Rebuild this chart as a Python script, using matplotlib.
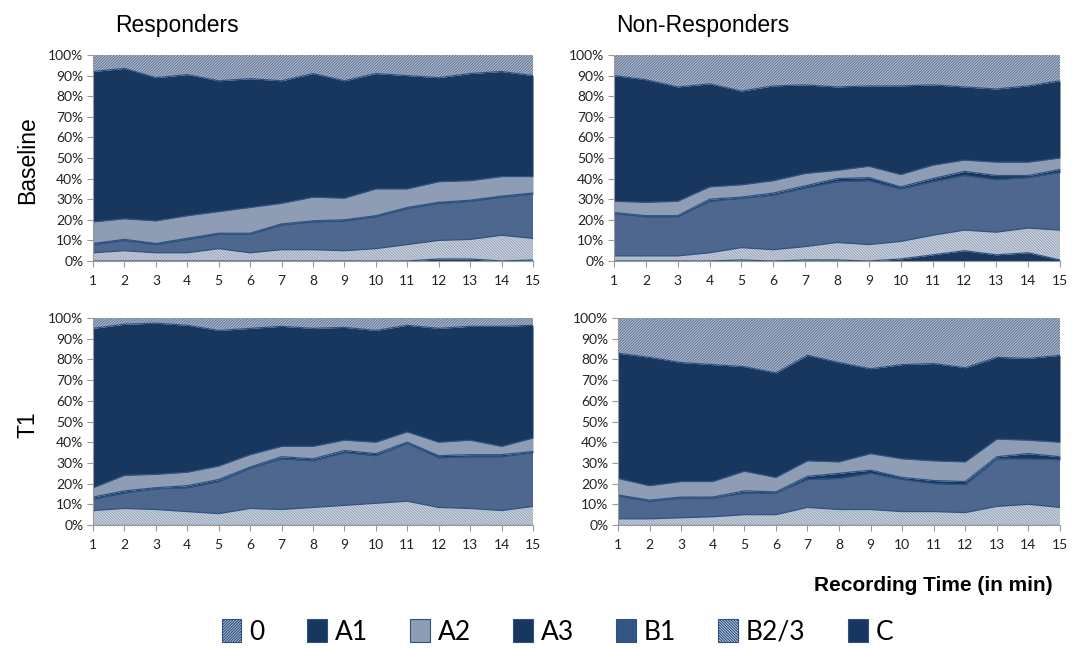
import numpy as np
import matplotlib
matplotlib.use("Agg")
import matplotlib.pyplot as plt
from matplotlib.patches import Patch

plt.rcParams["hatch.linewidth"] = 0.9

# ── data: share of each category (%) per recording minute ─────────
minutes = list(range(1, 16))
categories = ["0", "A1", "A2", "A3", "B1", "B2/3", "C"]

# Responders, Baseline
resp_base_C   = [0, 0, 0, 0, 0, 0, 0, 0, 0, 0, 0, 1, 1, 0, 0.5]
resp_base_B23 = [4, 5, 4, 4, 6, 4, 5.5, 5.5, 5, 6, 8, 9, 9.5, 12.5, 10.5]
resp_base_B1  = [4, 5, 4, 6.5, 7, 9, 12, 13.5, 14.5, 15.5, 17.5, 18, 18.5, 18.5, 21.5]
resp_base_A3  = [0.5, 0.5, 0.5, 0.5, 0.5, 0.5, 0.5, 0.5, 0.5, 0.5, 0.5, 0.5, 0.5, 0.5, 0.5]
resp_base_A2  = [10.5, 10, 11, 11, 10.5, 12.5, 10, 11.5, 10.5, 13, 9, 10, 9.5, 9.5, 8]
resp_base_A1  = [73, 73, 69.5, 68.5, 63.5, 62.5, 59.5, 60, 57, 56, 55, 50.5, 52, 51, 49]
resp_base_0   = [8, 6.5, 11, 9.5, 12.5, 11.5, 12.5, 9, 12.5, 9, 10, 11, 9, 8, 10]

# Non-Responders, Baseline
non_base_C   = [0, 0, 0, 0, 0.5, 0, 0.5, 0.5, 0, 1, 3, 5, 3, 4, 0.5]
non_base_B23 = [2.5, 2.5, 2.5, 4, 6, 5.5, 6.5, 8.5, 8, 8.5, 9.5, 10, 11, 12, 14.5]
non_base_B1  = [20.5, 19, 19, 25, 24, 26.5, 28.5, 29.5, 31, 25.5, 26, 26.5, 25.5, 24.5, 28]
non_base_A3  = [0.5, 0.5, 0.5, 1, 0.5, 1, 1, 1.5, 1.5, 1, 1.5, 2, 2, 1, 1.5]
non_base_A2  = [5.5, 6.5, 7, 6, 6, 6, 6, 4, 5.5, 6, 6.5, 5.5, 6.5, 6.5, 5.5]
non_base_A1  = [61, 59.5, 55.5, 50, 45.5, 46, 43, 40.5, 39, 43, 39, 35.5, 35.5, 37, 37.5]
non_base_0   = [10, 12, 15.5, 14, 17.5, 15, 14.5, 15.5, 15, 15, 14.5, 15.5, 16.5, 15, 12.5]

# Responders, T1
resp_t1_C   = [0] * 15
resp_t1_B23 = [7, 8, 7.5, 6.5, 5.5, 8, 7.5, 8.5, 9.5, 10.5, 11.5, 8.5, 8, 7, 9]
resp_t1_B1  = [5.5, 7.5, 10, 11.5, 15.5, 19.5, 24.5, 22.5, 25.5, 23, 28, 24, 25, 26, 26]
resp_t1_A3  = [1, 1, 0.5, 1, 1, 0.5, 1, 1, 1, 1, 0.5, 1, 1, 1, 0.5]
resp_t1_A2  = [4.5, 7.5, 6.5, 6.5, 6.5, 6, 5, 6, 5, 5.5, 5, 6.5, 7, 4, 6.5]
resp_t1_A1  = [77, 73, 73, 71, 65.5, 61, 58, 57, 54.5, 54, 51.5, 55, 55, 58, 54.5]
resp_t1_0   = [5, 3, 2.5, 3.5, 6, 5, 4, 5, 4.5, 6, 3.5, 5, 4, 4, 3.5]

# Non-Responders, T1
non_t1_C   = [0] * 15
non_t1_B23 = [3, 3, 3.5, 4, 5, 5, 8.5, 7.5, 7.5, 6.5, 6.5, 6, 9, 10, 8.5]
non_t1_B1  = [11, 8.5, 9.5, 9, 10.5, 10.5, 13.5, 15, 17.5, 15.5, 13.5, 13.5, 23, 22, 23]
non_t1_A3  = [0.5, 0.5, 0.5, 0.5, 1, 0.5, 1.5, 2.5, 1.5, 1, 1.5, 1.5, 1, 2.5, 1.5]
non_t1_A2  = [8, 7, 7.5, 7.5, 9.5, 7, 7.5, 5.5, 8, 9, 9.5, 9.5, 8.5, 6.5, 7]
non_t1_A1  = [60.5, 62, 57.5, 56.5, 50.5, 50.5, 51, 48, 41, 45.5, 47, 45.5, 39.5, 39.5, 42]
non_t1_0   = [17, 19, 21.5, 22.5, 23.5, 26.5, 18, 21.5, 24.5, 22.5, 22, 24, 19, 19.5, 18]

# ── styles (bottom -> top stacking order: C, B2/3, B1, A3, A2, A1, 0) ──
NAVY = "#17375e"
styles = {
    "C":    dict(face=NAVY,      hatch=None,           hcol=NAVY),
    "B2/3": dict(face="#e4e8ee", hatch="\\" * 12,      hcol="#98a6ba"),
    "B1":   dict(face="#58709a", hatch="|" * 12,       hcol="#4d668d"),
    "A3":   dict(face=NAVY,      hatch=None,           hcol=NAVY),
    "A2":   dict(face="#8e9db4", hatch=None,           hcol="#8e9db4"),
    "A1":   dict(face=NAVY,      hatch=None,           hcol=NAVY),
    "0":    dict(face="#cbd3df", hatch="/" * 12,       hcol="#66799a"),
}
stack_order = ["C", "B2/3", "B1", "A3", "A2", "A1", "0"]

panels = [
    ([0.0868, 0.5972, 0.4104, 0.3179],
     [resp_base_C, resp_base_B23, resp_base_B1, resp_base_A3, resp_base_A2, resp_base_A1, resp_base_0]),
    ([0.5728, 0.5972, 0.4160, 0.3179],
     [non_base_C, non_base_B23, non_base_B1, non_base_A3, non_base_A2, non_base_A1, non_base_0]),
    ([0.0868, 0.1898, 0.4104, 0.3194],
     [resp_t1_C, resp_t1_B23, resp_t1_B1, resp_t1_A3, resp_t1_A2, resp_t1_A1, resp_t1_0]),
    ([0.5765, 0.1898, 0.4123, 0.3194],
     [non_t1_C, non_t1_B23, non_t1_B1, non_t1_A3, non_t1_A2, non_t1_A1, non_t1_0]),
]

fig = plt.figure(figsize=(10.72, 6.48), dpi=100)
tick_font = "Lato"

for rect, series in panels:
    ax = fig.add_axes(rect)
    vals = np.array(series, dtype=float)
    # normalise each minute to 100 %
    vals = vals / vals.sum(axis=0) * 100
    tops = np.cumsum(vals, axis=0)
    bottoms = np.vstack([np.zeros(len(minutes)), tops[:-1]])
    for name, lo, hi in zip(stack_order, bottoms, tops):
        st = styles[name]
        ax.fill_between(minutes, lo, hi, facecolor=st["face"],
                        edgecolor=st["hcol"], hatch=st["hatch"], linewidth=0)
    for hi in tops[:-1]:
        ax.plot(minutes, hi, color="#2e5385", lw=0.9)

    ax.set_xlim(1, 15)
    ax.set_ylim(0, 100)
    ax.set_xticks(minutes)
    ax.set_yticks(range(0, 101, 10))
    ax.set_yticklabels([f"{v}%" for v in range(0, 101, 10)])
    for lbl in ax.get_xticklabels() + ax.get_yticklabels():
        lbl.set_fontfamily(tick_font)
        lbl.set_fontsize(10)
        lbl.set_color("#222222")
    ax.tick_params(axis="both", direction="out", length=4, color="#9a9a9a", width=0.8)
    ax.tick_params(axis="x", pad=6)
    ax.tick_params(axis="y", pad=3)
    for side in ["top", "right"]:
        ax.spines[side].set_visible(False)
    for side in ["left", "bottom"]:
        ax.spines[side].set_color("#9a9a9a")
        ax.spines[side].set_linewidth(0.8)

# ── titles / labels ──────────────────────────────────────────────
fig.text(0.165, 0.960, "Responders", fontsize=16.5, family="Liberation Sans", ha="center", va="center")
fig.text(0.656, 0.960, "Non-Responders", fontsize=16.5, family="Liberation Sans", ha="center", va="center")
fig.text(0.026, 0.753, "Baseline", fontsize=16.5, family="Liberation Sans", rotation=90, ha="center", va="center")
fig.text(0.026, 0.345, "T1", fontsize=16.5, family="Liberation Sans", rotation=90, ha="center", va="center")
fig.text(0.982, 0.097, "Recording Time (in min)", fontsize=15, fontweight="bold",
         family="Liberation Sans", ha="right", va="center")

# ── legend ───────────────────────────────────────────────────────
handles = [Patch(facecolor=styles[c]["face"], edgecolor="#2e5385",
                 hatch=styles[c]["hatch"], linewidth=0.8) for c in categories]
fig.legend(handles, categories, loc="center", bbox_to_anchor=(0.52, 0.025),
           ncol=7, frameon=False, prop={"family": tick_font, "size": 19},
           handlelength=0.75, handleheight=0.95, handletextpad=0.3, columnspacing=1.6)

fig.savefig("out.png", dpi=100)
